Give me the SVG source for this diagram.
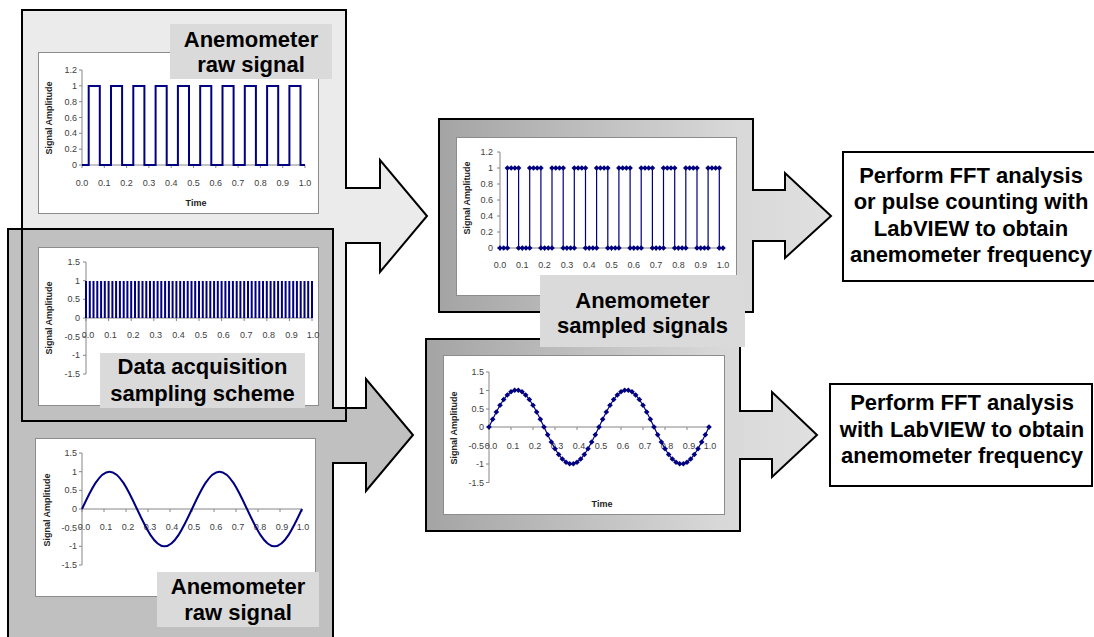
<svg xmlns="http://www.w3.org/2000/svg" xmlns:xlink="http://www.w3.org/1999/xlink" width="1094" height="637" viewBox="0 0 1094 637">
<style>
.outl{stroke:#000;stroke-width:2;stroke-linejoin:miter}
.chart{fill:#fff;stroke:#8c8c8c;stroke-width:1}
.ax{stroke:#868686;stroke-width:1;fill:none}
.tk{font-family:"Liberation Sans",Arial,sans-serif;font-size:9px;fill:#404040}
.tr{text-anchor:end}
.tm{text-anchor:middle}
.at{font-family:"Liberation Sans",Arial,sans-serif;font-size:9px;font-weight:bold;fill:#222;text-anchor:middle}
.lbl{fill:#dadada}
.lt{font-family:"Liberation Sans",Arial,sans-serif;font-size:22px;font-weight:bold;fill:#000;text-anchor:middle}
.bt{font-family:"Liberation Sans",Arial,sans-serif;font-size:22px;font-weight:bold;fill:#000;text-anchor:middle}
.sig{fill:none;stroke:#000080;stroke-width:2;stroke-linejoin:miter}
.sig1{fill:none;stroke:#000080;stroke-width:1.2}
</style>
<defs>
<linearGradient id="gm" x1="0" y1="0" x2="1" y2="0">
<stop offset="0" stop-color="#a4a4a4"/>
<stop offset="0.75" stop-color="#d8d8d8"/>
<stop offset="1" stop-color="#e0e0e0"/>
</linearGradient>
<marker id="dm" markerUnits="userSpaceOnUse" markerWidth="6" markerHeight="6" refX="3" refY="3" orient="0" overflow="visible">
<path d="M3,0.2 L5.8,3 L3,5.8 L0.2,3 Z" fill="#000080"/>
</marker>
</defs>

<!-- top-left light block arrow (fill) -->
<g id="raw-square-node">
<polygon id="arrowA-fill" points="22,10 346,10 346,188 380,188 380,160 427,216 380,272 380,243 346,243 346,421 22,421" fill="#ebebeb"/>
</g>

<!-- bottom-left gray block arrow -->
<g id="raw-sine-node">
<polygon points="8,229 333,229 333,408 366,408 366,379 413,435 366,491 366,463 333,463 333,645 8,645" fill="#c0c0c0" class="outl"/>
</g>

<!-- outline of top arrow on top -->
<g id="raw-square-outline">
<polygon points="22,10 346,10 346,188 380,188 380,160 427,216 380,272 380,243 346,243 346,421 22,421" fill="none" class="outl"/>
</g>

<!-- Chart A: raw square wave -->
<g id="chart-raw-square">
<rect class="chart" x="38.5" y="52.5" width="280" height="161"/>
<path class="ax" d="M82,70 V165 H305 M79,165 H82 M79,149.2 H82 M79,133.3 H82 M79,117.5 H82 M79,101.7 H82 M79,85.8 H82 M79,70 H82 M82,165 V168 M104.3,165 V168 M126.6,165 V168 M148.9,165 V168 M171.2,165 V168 M193.5,165 V168 M215.8,165 V168 M238.1,165 V168 M260.4,165 V168 M282.7,165 V168 M305,165 V168"/>
<g class="tk tr">
<text x="77" y="168">0</text><text x="77" y="152.2">0.2</text><text x="77" y="136.3">0.4</text><text x="77" y="120.5">0.6</text><text x="77" y="104.7">0.8</text><text x="77" y="88.8">1</text><text x="77" y="73">1.2</text>
</g>
<g class="tk tm">
<text x="82" y="186">0.0</text><text x="104.3" y="186">0.1</text><text x="126.6" y="186">0.2</text><text x="148.9" y="186">0.3</text><text x="171.2" y="186">0.4</text><text x="193.5" y="186">0.5</text><text x="215.8" y="186">0.6</text><text x="238.1" y="186">0.7</text><text x="260.4" y="186">0.8</text><text x="282.7" y="186">0.9</text><text x="305" y="186">1.0</text>
</g>
<text class="at" transform="translate(52,118) rotate(-90)">Signal Amplitude</text>
<text class="at" x="196" y="205.5">Time</text>
<path class="sig" d="M82,165 H88.7 V86 H99.8 V165 H111 V86 H122.1 V165 H133.3 V86 H144.4 V165 H155.6 V86 H166.7 V165 H177.9 V86 H189 V165 H200.2 V86 H211.3 V165 H222.5 V86 H233.6 V165 H244.8 V86 H255.9 V165 H267.1 V86 H278.2 V165 H289.4 V86 H300.5 V165 H305"/>
</g>

<g id="label-raw-top">
<rect class="lbl" x="170" y="24" width="162" height="55"/>
<text class="lt" x="251" y="47">Anemometer</text>
<text class="lt" x="251" y="72">raw signal</text>
</g>

<!-- Chart B: data acquisition sampling -->
<g id="chart-sampling">
<rect class="chart" x="38.5" y="247.5" width="280" height="158"/>
<path class="ax" d="M86,262 V374 M86,318 H312 M83,262 H86 M83,280.7 H86 M83,299.3 H86 M83,318 H86 M83,336.7 H86 M83,355.3 H86 M83,374 H86 M86,318 V321 M108.6,318 V321 M131.2,318 V321 M153.8,318 V321 M176.4,318 V321 M199,318 V321 M221.6,318 V321 M244.2,318 V321 M266.8,318 V321 M289.4,318 V321 M312,318 V321"/>
<g class="tk tr">
<text x="80" y="265">1.5</text><text x="80" y="283.7">1</text><text x="80" y="302.3">0.5</text><text x="80" y="321">0</text><text x="80" y="339.7">-0.5</text><text x="80" y="358.3">-1</text><text x="80" y="377">-1.5</text>
</g>
<g class="tk tm">
<text x="88" y="338">0.0</text><text x="110.6" y="338">0.1</text><text x="133.2" y="338">0.2</text><text x="155.8" y="338">0.3</text><text x="178.4" y="338">0.4</text><text x="201" y="338">0.5</text><text x="223.6" y="338">0.6</text><text x="246.2" y="338">0.7</text><text x="268.8" y="338">0.8</text><text x="291.4" y="338">0.9</text><text x="313" y="338">1.0</text>
</g>
<text class="at" transform="translate(52,318) rotate(-90)">Signal Amplitude</text>
<path fill="none" stroke="#000080" stroke-width="2" d="M86,318V281 M89.8,318V281 M93.5,318V281 M97.3,318V281 M101.1,318V281 M104.8,318V281 M108.6,318V281 M112.4,318V281 M116.1,318V281 M119.9,318V281 M123.7,318V281 M127.4,318V281 M131.2,318V281 M135,318V281 M138.7,318V281 M142.5,318V281 M146.3,318V281 M150,318V281 M153.8,318V281 M157.6,318V281 M161.3,318V281 M165.1,318V281 M168.9,318V281 M172.6,318V281 M176.4,318V281 M180.2,318V281 M183.9,318V281 M187.7,318V281 M191.5,318V281 M195.2,318V281 M199,318V281 M202.8,318V281 M206.5,318V281 M210.3,318V281 M214.1,318V281 M217.8,318V281 M221.6,318V281 M225.4,318V281 M229.1,318V281 M232.9,318V281 M236.7,318V281 M240.4,318V281 M244.2,318V281 M248,318V281 M251.7,318V281 M255.5,318V281 M259.3,318V281 M263,318V281 M266.8,318V281 M270.6,318V281 M274.3,318V281 M278.1,318V281 M281.9,318V281 M285.6,318V281 M289.4,318V281 M293.2,318V281 M296.9,318V281 M300.7,318V281 M304.5,318V281 M308.2,318V281 M312,318V281"/>
</g>

<g id="label-sampling">
<rect class="lbl" x="100" y="353" width="205" height="55"/>
<text class="lt" x="202.5" y="374">Data acquisition</text>
<text class="lt" x="202.5" y="401">sampling scheme</text>
</g>

<!-- Chart D: raw sine -->
<g id="chart-raw-sine">
<rect class="chart" x="35.5" y="438.5" width="280" height="158"/>
<path class="ax" d="M82,453 V565 M82,509 H302 M79,453 H82 M79,471.7 H82 M79,490.3 H82 M79,509 H82 M79,527.7 H82 M79,546.3 H82 M79,565 H82 M82,509 V512 M104,509 V512 M126,509 V512 M148,509 V512 M170,509 V512 M192,509 V512 M214,509 V512 M236,509 V512 M258,509 V512 M280,509 V512 M302,509 V512"/>
<g class="tk tr">
<text x="77" y="456">1.5</text><text x="77" y="474.7">1</text><text x="77" y="493.3">0.5</text><text x="77" y="512">0</text><text x="77" y="530.7">-0.5</text><text x="77" y="549.3">-1</text><text x="77" y="568">-1.5</text>
</g>
<g class="tk tm">
<text x="84" y="530">0.0</text><text x="106" y="530">0.1</text><text x="128" y="530">0.2</text><text x="150" y="530">0.3</text><text x="172" y="530">0.4</text><text x="194" y="530">0.5</text><text x="216" y="530">0.6</text><text x="238" y="530">0.7</text><text x="260" y="530">0.8</text><text x="282" y="530">0.9</text><text x="303" y="530">1.0</text>
</g>
<text class="at" transform="translate(49.5,510) rotate(-90)">Signal Amplitude</text>
<path class="sig" d="M82,509 C90.97,489.87 99.55,471.67 109.5,471.67 C119.45,471.67 128.03,489.87 137,509 C145.97,528.13 154.55,546.33 164.5,546.33 C174.45,546.33 183.03,528.13 192,509 C200.97,489.87 209.55,471.67 219.5,471.67 C229.45,471.67 238.03,489.87 247,509 C255.97,528.13 264.55,546.33 274.5,546.33 C284.45,546.33 293.03,528.13 302,509"/>
</g>

<g id="label-raw-bottom">
<rect class="lbl" x="157" y="572" width="162" height="55"/>
<text class="lt" x="238" y="594">Anemometer</text>
<text class="lt" x="238" y="620">raw signal</text>
</g>

<!-- Middle top: sampled square -->
<g id="sampled-square-node">
<polygon points="439,119 753,119 753,190 785,190 785,173 831,216 785,258 785,241 753,241 753,312 439,312" fill="url(#gm)" class="outl"/>
<rect class="chart" x="456.5" y="137.5" width="280" height="158"/>
<path class="ax" d="M500,152 V248 H723 M497,152 H500 M497,168 H500 M497,184 H500 M497,200 H500 M497,216 H500 M497,232 H500 M497,248 H500 M500,248 V251 M522.3,248 V251 M544.6,248 V251 M566.9,248 V251 M589.2,248 V251 M611.5,248 V251 M633.8,248 V251 M656.1,248 V251 M678.4,248 V251 M700.7,248 V251 M723,248 V251"/>
<g class="tk tr">
<text x="493" y="251">0</text><text x="493" y="235">0.2</text><text x="493" y="219">0.4</text><text x="493" y="203">0.6</text><text x="493" y="187">0.8</text><text x="493" y="171">1</text><text x="493" y="155">1.2</text>
</g>
<g class="tk tm">
<text x="500" y="268">0.0</text><text x="522.3" y="268">0.1</text><text x="544.6" y="268">0.2</text><text x="566.9" y="268">0.3</text><text x="589.2" y="268">0.4</text><text x="611.5" y="268">0.5</text><text x="633.8" y="268">0.6</text><text x="656.1" y="268">0.7</text><text x="678.4" y="268">0.8</text><text x="700.7" y="268">0.9</text><text x="723" y="268">1.0</text>
</g>
<text class="at" transform="translate(469.5,198) rotate(-90)">Signal Amplitude</text>
<polyline class="sig1" marker-start="url(#dm)" marker-mid="url(#dm)" marker-end="url(#dm)" points="500,248 503.7,248 507.4,248 507.4,168 511.2,168 514.9,168 518.6,168 518.6,248 522.3,248 526,248 529.7,248 529.7,168 533.5,168 537.2,168 540.9,168 540.9,248 544.6,248 548.3,248 552,248 552,168 555.8,168 559.5,168 563.2,168 563.2,248 566.9,248 570.6,248 574.3,248 574.3,168 578.1,168 581.8,168 585.5,168 585.5,248 589.2,248 592.9,248 596.6,248 596.6,168 600.4,168 604.1,168 607.8,168 607.8,248 611.5,248 615.2,248 618.9,248 618.9,168 622.7,168 626.4,168 630.1,168 630.1,248 633.8,248 637.5,248 641.2,248 641.2,168 645,168 648.7,168 652.4,168 652.4,248 656.1,248 659.8,248 663.5,248 663.5,168 667.3,168 671,168 674.7,168 674.7,248 678.4,248 682.1,248 685.8,248 685.8,168 689.6,168 693.3,168 697,168 697,248 700.7,248 704.4,248 708.1,248 708.1,168 711.9,168 715.6,168 719.3,168 719.3,248 723,248"/>
</g>

<!-- Middle bottom: sampled sine -->
<g id="sampled-sine-node">
<polygon points="426,339 740,339 740,411 772,411 772,392 817,435 772,477 772,459 740,459 740,531 426,531" fill="url(#gm)" class="outl"/>
<rect class="chart" x="443.5" y="355.5" width="281" height="159"/>
<path class="ax" d="M489,372 V482.5 M489,427 H709 M486,372 H489 M486,390.5 H489 M486,409 H489 M486,427 H489 M486,445.5 H489 M486,464 H489 M486,482.5 H489 M489,427 V430 M511,427 V430 M533,427 V430 M555,427 V430 M577,427 V430 M599,427 V430 M621,427 V430 M643,427 V430 M665,427 V430 M687,427 V430 M709,427 V430"/>
<g class="tk tr">
<text x="484" y="375">1.5</text><text x="484" y="393.5">1</text><text x="484" y="412">0.5</text><text x="484" y="430">0</text><text x="484" y="448.5">-0.5</text><text x="484" y="467">-1</text><text x="484" y="485.5">-1.5</text>
</g>
<g class="tk tm">
<text x="491" y="449">0.0</text><text x="513" y="449">0.1</text><text x="535" y="449">0.2</text><text x="557" y="449">0.3</text><text x="579" y="449">0.4</text><text x="601" y="449">0.5</text><text x="623" y="449">0.6</text><text x="645" y="449">0.7</text><text x="667" y="449">0.8</text><text x="689" y="449">0.9</text><text x="710" y="449">1.0</text>
</g>
<text class="at" transform="translate(457,428) rotate(-90)">Signal Amplitude</text>
<text class="at" x="602" y="507">Time</text>
<polyline class="sig1" marker-start="url(#dm)" marker-mid="url(#dm)" marker-end="url(#dm)" points="489,427 492.67,419.31 496.33,411.95 500,405.25 503.67,399.51 507.33,394.96 511,391.81 514.67,390.2 518.33,390.2 522,391.81 525.67,394.96 529.33,399.51 533,405.25 536.67,411.95 540.33,419.31 544,427 547.67,434.69 551.33,442.05 555,448.75 558.67,454.49 562.33,459.04 566,462.19 569.67,463.8 573.33,463.8 577,462.19 580.67,459.04 584.33,454.49 588,448.75 591.67,442.05 595.33,434.69 599,427 602.67,419.31 606.33,411.95 610,405.25 613.67,399.51 617.33,394.96 621,391.81 624.67,390.2 628.33,390.2 632,391.81 635.67,394.96 639.33,399.51 643,405.25 646.67,411.95 650.33,419.31 654,427 657.67,434.69 661.33,442.05 665,448.75 668.67,454.49 672.33,459.04 676,462.19 679.67,463.8 683.33,463.8 687,462.19 690.67,459.04 694.33,454.49 698,448.75 701.67,442.05 705.33,434.69 709,427"/>
</g>

<g id="label-sampled">
<rect class="lbl" x="540" y="275" width="205" height="72"/>
<text class="lt" x="642.5" y="308">Anemometer</text>
<text class="lt" x="642.5" y="333">sampled signals</text>
</g>

<!-- Right result boxes -->
<g id="result-top">
<rect x="843" y="152" width="262" height="129" fill="#fff" class="outl"/>
<text class="bt" x="971" y="183">Perform FFT analysis</text>
<text class="bt" x="971" y="209">or pulse counting with</text>
<text class="bt" x="971" y="236">LabVIEW to obtain</text>
<text class="bt" x="971" y="262">anemometer frequency</text>
</g>
<g id="result-bottom">
<rect x="830" y="384" width="262" height="102" fill="#fff" class="outl"/>
<text class="bt" x="962" y="410">Perform FFT analysis</text>
<text class="bt" x="962" y="437">with LabVIEW to obtain</text>
<text class="bt" x="962" y="463">anemometer frequency</text>
</g>

<g id="connectors"></g>
</svg>
